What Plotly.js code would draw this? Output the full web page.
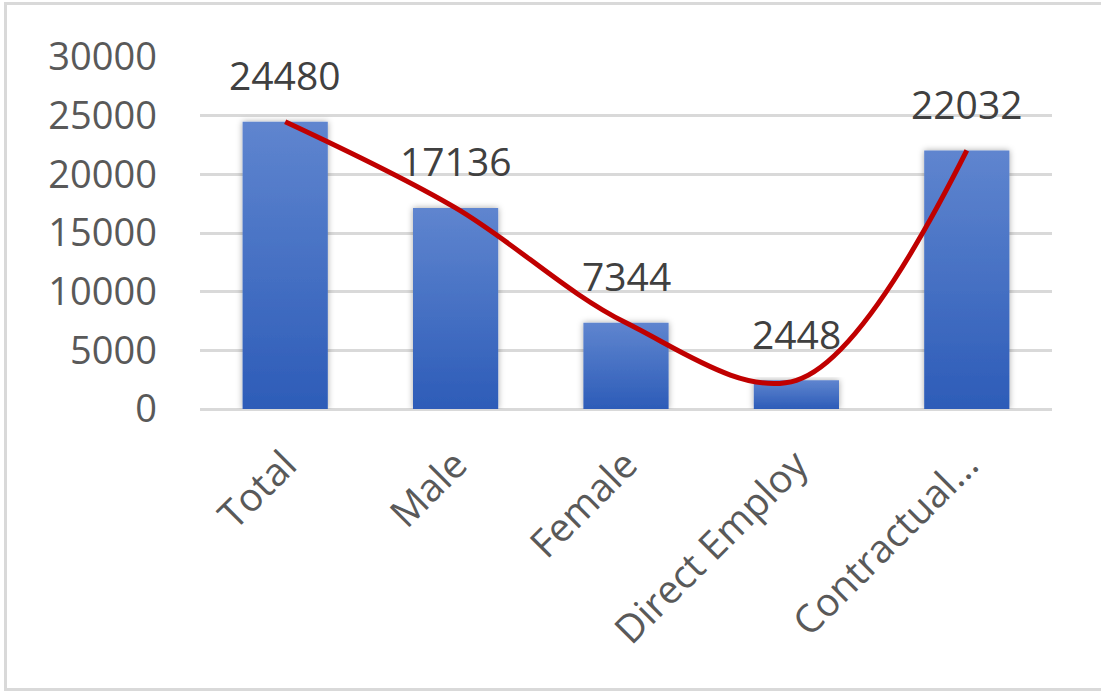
<!DOCTYPE html>
<html>
<head>
<meta charset="utf-8">
<script src="https://cdn.plot.ly/plotly-3.0.1.min.js"></script>
<style>
  html, body { margin: 0; padding: 0; background: #ffffff; overflow: hidden; }
  #frame {
    position: absolute; left: 4px; top: 2px; width: 1110px; height: 683px;
    border-top: 3px solid #d9d9d9; border-left: 3px solid #d9d9d9; border-bottom: 3px solid #d9d9d9;
    pointer-events: none;
  }
  #chart { position: absolute; left: 0; top: 0; width: 1101px; height: 691px; }
</style>
</head>
<body>
<div id="chart"></div>
<div id="frame"></div>
<svg width="0" height="0" style="position:absolute">
  <defs>
    <linearGradient id="barFill" x1="0" y1="0" x2="0" y2="1">
      <stop offset="0" stop-color="#5f85cf"/>
      <stop offset="1" stop-color="#2d5cb8"/>
    </linearGradient>
    <filter id="barShadow" x="-20%" y="-10%" width="140%" height="120%">
      <feDropShadow dx="0" dy="0" stdDeviation="3" flood-color="#000000" flood-opacity="0.35"/>
    </filter>
  </defs>
</svg>
<script>
// Workforce headcount by group
const categories = ["Total", "Male", "Female", "Direct Employ", "Contractual…"];
const headcount = [24480, 17136, 7344, 2448, 22032];
const yTicks = [0, 5000, 10000, 15000, 20000, 25000, 30000];

const tickFont = { family: "Open Sans, sans-serif", size: 38, color: "#595959" };

const bars = {
  type: "bar",
  x: categories,
  y: headcount,
  width: 0.5,
  marker: { color: "#4472c4" },
  hoverinfo: "none",
  showlegend: false
};

// smooth red curve running across the bar tops
const curve = {
  type: "scatter",
  mode: "lines",
  x: categories,
  y: headcount,
  line: { color: "#c00000", width: 5, shape: "spline", smoothing: 1 },
  hoverinfo: "none",
  showlegend: false
};

const valueLabels = categories.map((c, i) => ({
  x: c,
  y: headcount[i],
  xref: "x",
  yref: "y",
  text: String(headcount[i]),
  showarrow: false,
  yanchor: "middle",
  yshift: 47,
  font: { family: "Open Sans, sans-serif", size: 39, color: "#404040" }
}));

const layout = {
  width: 1101,
  height: 691,
  margin: { l: 200, r: 49, t: 57, b: 282 },
  paper_bgcolor: "#ffffff",
  plot_bgcolor: "#ffffff",
  bargap: 0.5,
  xaxis: {
    type: "category",
    tickangle: -45,
    tickfont: { family: "Open Sans, sans-serif", size: 39, color: "#595959" },
    ticklabelstandoff: 24,
    showgrid: false,
    showline: false,
    ticks: "",
    zeroline: false
  },
  yaxis: {
    range: [0, 30000],
    tickvals: yTicks,
    ticktext: yTicks.map(String),
    tickfont: tickFont,
    ticklabelstandoff: 42,
    showgrid: true,
    gridcolor: "#d9d9d9",
    gridwidth: 3,
    zeroline: true,
    zerolinecolor: "#d9d9d9",
    zerolinewidth: 3,
    showline: false,
    ticks: ""
  },
  annotations: valueLabels
};

Plotly.newPlot("chart", [bars, curve], layout, { staticPlot: true, displayModeBar: false }).then(gd => {
  gd.querySelectorAll(".bars .point path").forEach(p => {
    p.style.fill = "url(#barFill)";
    p.style.filter = "url(#barShadow)";
  });
});
</script>
</body>
</html>
